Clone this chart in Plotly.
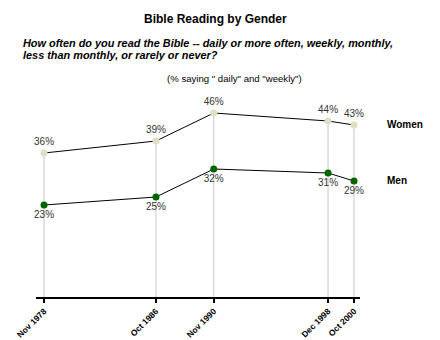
import plotly.graph_objects as go

# Survey dates, tick labels and percentages saying "daily" or "weekly"
dates = ["1978-11-15", "1986-10-15", "1990-11-15", "1998-12-15", "2000-10-15"]
date_labels = ["Nov 1978", "Oct 1986", "Nov 1990", "Dec 1998", "Oct 2000"]
women = [36, 39, 46, 44, 43]
men = [23, 25, 32, 31, 29]

FONT = "Arial, Liberation Sans, sans-serif"

fig = go.Figure()

# Vertical drop lines from each women's point to the baseline
drop_x, drop_y = [], []
for d, w in zip(dates, women):
    drop_x += [d, d, None]
    drop_y += [0, w, None]
fig.add_trace(go.Scatter(
    x=drop_x, y=drop_y, mode="lines",
    line=dict(color="#c8c8c8", width=1),
    hoverinfo="skip", showlegend=False,
))

fig.add_trace(go.Scatter(
    x=dates, y=women, mode="lines+markers+text", name="Women",
    line=dict(color="black", width=1),
    marker=dict(color="#e0dfc2", size=7),
    text=[f"{v}%" for v in women], textposition="top center",
    textfont=dict(family=FONT, size=10, color="#333333"),
    cliponaxis=False, showlegend=False,
))
fig.add_trace(go.Scatter(
    x=dates, y=men, mode="lines+markers+text", name="Men",
    line=dict(color="black", width=1),
    marker=dict(color="#006400", size=7),
    text=[f"{v}%" for v in men], textposition="bottom center",
    textfont=dict(family=FONT, size=10, color="#333333"),
    cliponaxis=False, showlegend=False,
))

# plot area spans pixels 100..297 vertically; convert pixel rows to paper units
def py(p):
    return (297 - p) / 197

annotations = [
    dict(text="<b>Bible Reading by Gender</b>", x=215, y=py(19), font=dict(size=12)),
    dict(text="<b><i>How often do you read the Bible -- daily or more often, weekly, monthly,</i></b>",
         x=21, y=py(43.5), xanchor="left", font=dict(size=10.9)),
    dict(text="<b><i>less than monthly, or rarely or never?</i></b>",
         x=21, y=py(54.5), xanchor="left", font=dict(size=10.9)),
    dict(text='(% saying " daily" and "weekly")', x=235, y=py(78), font=dict(size=9.6)),
    dict(text="<b>Women</b>", x=385, y=py(124), xanchor="left", font=dict(size=10)),
    dict(text="<b>Men</b>", x=385, y=py(180), xanchor="left", font=dict(size=10)),
]
# x given in pixels above; convert to paper units (plot area 36..360)
for a in annotations:
    a["x"] = (a["x"] - 36) / 324
    a.setdefault("xanchor", "center")
    a.update(xref="paper", yref="paper", yanchor="middle", showarrow=False)
    a["font"].update(family=FONT, color="black")

fig.update_layout(
    width=440, height=340,
    margin=dict(l=36, r=80, t=100, b=43, autoexpand=False),
    paper_bgcolor="white", plot_bgcolor="white",
    annotations=annotations,
    xaxis=dict(
        type="date", range=["1978-04-22", "2001-03-19"], automargin=False,
        tickvals=dates, ticktext=date_labels, tickangle=-45,
        tickfont=dict(family=FONT, size=8.5, color="black", weight="bold"),
        showgrid=False, zeroline=False,
        showline=True, linecolor="black", linewidth=2,
        ticks="outside", ticklen=4, tickwidth=2, tickcolor="black",
    ),
    yaxis=dict(range=[0, 49.25], visible=False, fixedrange=True, automargin=False),
)

fig.write_html("out.html")
